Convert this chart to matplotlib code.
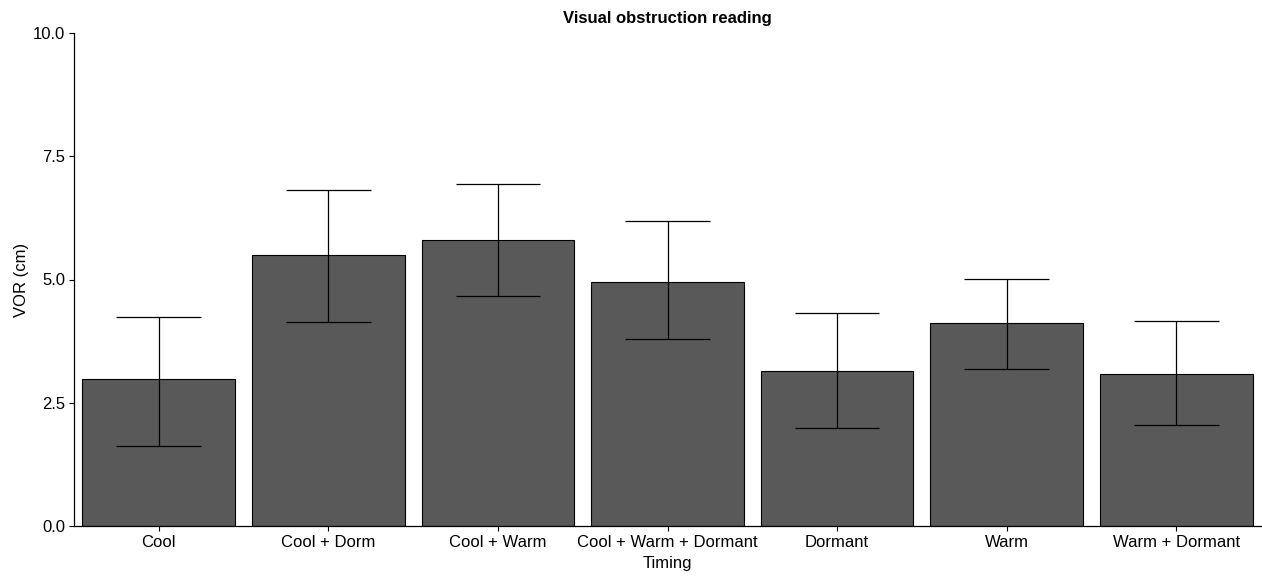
import matplotlib
matplotlib.use('Agg')
import matplotlib.pyplot as plt
import numpy as np

plt.rcParams['font.family'] = ['Liberation Sans', 'DejaVu Sans']

# ---- Data ----
timing = ['Cool', 'Cool + Dorm', 'Cool + Warm', 'Cool + Warm + Dormant',
          'Dormant', 'Warm', 'Warm + Dormant']
vor_mean = [2.98, 5.50, 5.80, 4.95, 3.14, 4.12, 3.08]
vor_low = [1.62, 4.14, 4.67, 3.79, 1.99, 3.18, 2.05]
vor_high = [4.24, 6.82, 6.94, 6.19, 4.32, 5.01, 4.16]

# ---- Plot ----
fig = plt.figure(figsize=(12.62, 5.76), dpi=100)
ax = fig.add_axes([74 / 1262, 1 - 526 / 576, 1187 / 1262, 493 / 576])

x = np.arange(len(timing))
ax.bar(x, vor_mean, width=0.9, color='#595959', edgecolor='black', linewidth=0.8, zorder=2)

# error bars with caps of width 0.5
ax.vlines(x, vor_low, vor_high, color='black', linewidth=0.9, zorder=3)
ax.hlines(vor_low, x - 0.25, x + 0.25, color='black', linewidth=0.9, zorder=3)
ax.hlines(vor_high, x - 0.25, x + 0.25, color='black', linewidth=0.9, zorder=3)

ax.set_xlim(-0.5, 6.5)
ax.set_ylim(0, 10)
ax.set_yticks([0, 2.5, 5.0, 7.5, 10.0])
ax.set_yticklabels(['0.0', '2.5', '5.0', '7.5', '10.0'])
ax.set_xticks(x)
ax.set_xticklabels(timing)

for side in ['top', 'right']:
    ax.spines[side].set_visible(False)
for side in ['left', 'bottom']:
    ax.spines[side].set_color('black')
    ax.spines[side].set_linewidth(0.9)

ax.tick_params(axis='both', labelsize=12, colors='black', length=3.5, width=0.8, pad=3)
ax.set_xlabel('Timing', fontsize=12, labelpad=4)
ax.set_ylabel('VOR (cm)', fontsize=12, labelpad=3)
ax.set_title('Visual obstruction reading', fontsize=12, fontweight='bold', pad=7)

fig.savefig('out.png', dpi=100)
